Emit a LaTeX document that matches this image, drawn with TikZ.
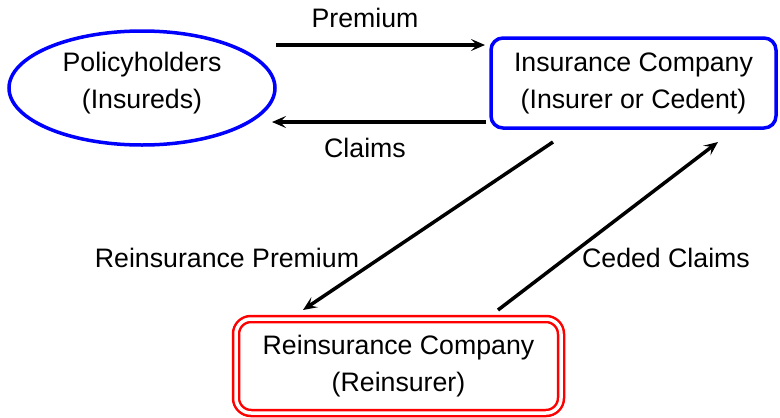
\documentclass[tikz,border=0pt]{standalone}
\usepackage{fontspec}
\setmainfont{Liberation Sans}
\usetikzlibrary{shapes.geometric,arrows.meta}
\tikzset{
  txt/.style={font=\fontsize{26.7}{37}\selectfont, align=center, inner sep=0pt},
  party/.style={txt, draw=blue, line width=3.5pt},
  reins/.style={txt, draw=red, line width=2.5pt, double=white, double distance=3.5pt, rounded corners=15pt},
  flow/.style={line width=3.5pt, -{Stealth[length=14pt,width=12pt,inset=6pt]}},
  lbl/.style={font=\fontsize{26.7}{37}\selectfont, inner sep=0pt, anchor=base}
}
\begin{document}
\begin{tikzpicture}[x=1pt,y=-1pt]
\useasboundingbox (0,0) rectangle (780,418);
% nodes
\node[party, ellipse, minimum width=266pt, minimum height=114pt] (ph) at (142,88) {\raisebox{5.5pt}[\height][\depth]{\begin{tabular}{@{}c@{}}Policyholders\\(Insureds)\end{tabular}}};
\node[party, rectangle, rounded corners=12pt, minimum width=285pt, minimum height=90pt] (ins) at (633.5,83) {Insurance Company\\(Insurer or Cedent)};
\node[reins, rectangle, minimum width=325pt, minimum height=94pt] (re) at (398.5,366) {Reinsurance Company\\(Reinsurer)};
% connector end points
\coordinate (p1) at (276,45);
\coordinate (p2) at (485,45);
\coordinate (c1) at (486,122);
\coordinate (c2) at (272,122);
\coordinate (r1) at (553,142);
\coordinate (r2) at (303,310);
\coordinate (d1) at (498,310);
\coordinate (d2) at (718,142);
% connectors
\draw[flow] (p1) -- (p2);
\draw[flow] (c1) -- (c2);
\draw[flow] (r1) -- (r2);
\draw[flow] (d1) -- (d2);
% labels
\node[lbl] (lprem) at (365,27) {Premium};
\node[lbl] (lclaim) at (365,157) {Claims};
\node[lbl] (lrprem) at (227,267) {Reinsurance Premium};
\node[lbl] (lced) at (666,267) {Ceded Claims};
\end{tikzpicture}
\end{document}
